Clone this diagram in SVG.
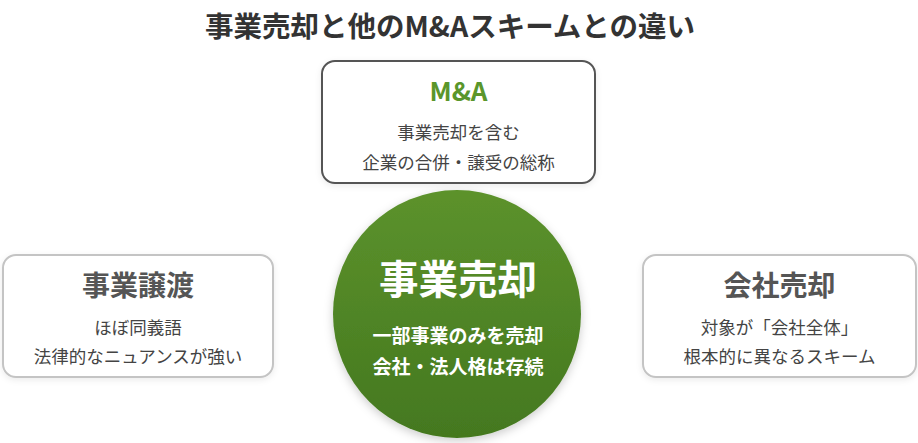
<svg xmlns="http://www.w3.org/2000/svg" width="918" height="443" viewBox="0 0 918 443">
<style>
text{font-family:"Noto Sans CJK JP","Noto Sans",sans-serif;text-anchor:middle}
.title{font-size:28.5px;font-weight:700;fill:#333}
.box{fill:#fff;stroke:#c4c4c4;stroke-width:2}
.boxdark{fill:#fff;stroke:#555;stroke-width:2}
.h{font-size:28px;font-weight:700;fill:#555}
.ma{font-size:26px;font-weight:700;fill:#5a962b}
.sub{font-size:17.5px;fill:#444}
.ch{font-size:39.5px;font-weight:700;fill:#fff}
.cs{font-size:19px;font-weight:700;fill:#fff}
</style>
<defs>
<linearGradient id="g" x1="0" y1="0" x2="0" y2="1">
<stop offset="0" stop-color="#5c922c"/>
<stop offset="1" stop-color="#44781f"/>
</linearGradient>
<filter id="sh" x="-20%" y="-20%" width="140%" height="140%">
<feDropShadow dx="0" dy="3" stdDeviation="5" flood-color="#000" flood-opacity="0.2"/>
</filter>
<filter id="bs" x="-10%" y="-10%" width="120%" height="130%">
<feDropShadow dx="0" dy="2" stdDeviation="3" flood-color="#000" flood-opacity="0.08"/>
</filter>
</defs>
<rect width="918" height="443" fill="#fff"/>
<text class="title" x="450" y="37">事業売却と他のM&amp;Aスキームとの違い</text>
<g id="connectors"/>
<g id="node-ma">
<rect class="boxdark" x="322" y="61" width="273" height="122" rx="13" filter="url(#bs)"/>
<text class="ma" x="458.5" y="101">M&amp;A</text>
<text class="sub" x="458.5" y="139">事業売却を含む</text>
<text class="sub" x="458.5" y="169">企業の合併・譲受の総称</text>
</g>
<g id="node-jigyou-jouto">
<rect class="box" x="3" y="255" width="270" height="122" rx="13" filter="url(#bs)"/>
<text class="h" x="138" y="296">事業譲渡</text>
<text class="sub" x="138" y="334">ほぼ同義語</text>
<text class="sub" x="138" y="363">法律的なニュアンスが強い</text>
</g>
<g id="node-kaisha-baikyaku">
<rect class="box" x="643" y="255" width="273" height="122" rx="13" filter="url(#bs)"/>
<text class="h" x="779.5" y="296">会社売却</text>
<text class="sub" x="779.5" y="334">対象が「会社全体」</text>
<text class="sub" x="779.5" y="363">根本的に異なるスキーム</text>
</g>
<g id="node-jigyou-baikyaku">
<circle cx="457" cy="314" r="124" fill="url(#g)" filter="url(#sh)"/>
<text class="ch" x="458" y="294">事業売却</text>
<text class="cs" x="458" y="343">一部事業のみを売却</text>
<text class="cs" x="458" y="374">会社・法人格は存続</text>
</g>
</svg>
